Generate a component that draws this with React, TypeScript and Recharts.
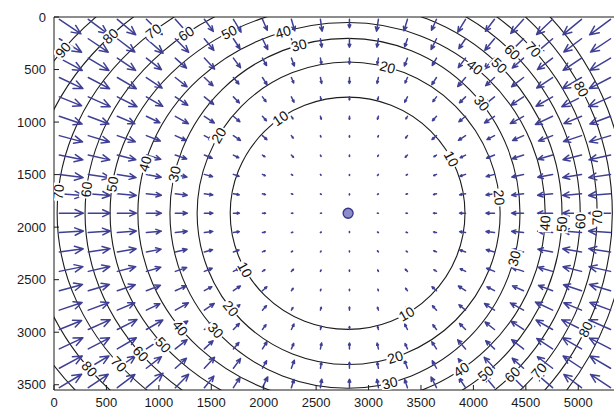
import React from "react";
import { ComposedChart, XAxis, YAxis, ReferenceArea, Line, Scatter } from "recharts";

const xTicks = [0, 500, 1000, 1500, 2000, 2500, 3000, 3500, 4000, 4500, 5000];
const yTicks = [0, 500, 1000, 1500, 2000, 2500, 3000, 3500];

// source marker
const source = { x: 2805, y: 1868 };

// contour levels, extent from the source to the left, to the right and up/down
const levels = [10, 20, 30, 40, 50, 60, 70, 80, 90];
const radiusLeft = [1125, 1440, 1700, 2005, 2270, 2510, 2775, 3050, 3320];
const radiusRight = [1115, 1450, 1640, 1880, 2040, 2215, 2375, 2520, 2660];
const radiusVert = [1105, 1440, 1665, 1815, 1990, 2170, 2330, 2520, 2710];

// contour labels: level + where it sits around the source (deg, 0 = right, 90 = down)
const labelLevels = [
  10, 10, 10, 10,
  20, 20, 20, 20, 20,
  30, 30, 30, 30, 30, 30,
  40, 40, 40, 40, 40, 40,
  50, 50, 50, 50, 50, 50,
  60, 60, 60, 60, 60, 60,
  70, 70, 70, 70, 70, 70,
  80, 80, 80, 80,
  90,
];
const labelAngles = [
  235, -28, 151, 60,
  -75, 211, -6, 141, 72,
  254, 193, 15, -39, 138, 76,
  252, 195, 3, -50, 143, 55,
  240, 188, 3, -45, 141, 50,
  232, 186, 2, -45, 142, 45,
  228, 185, 1, -42, 142, 40,
  222, 144, -28, 26,
  215,
];

// quiver grid
const gridX = [51, 327, 604, 881, 1157, 1434, 1711, 1988, 2264, 2541, 2818, 3094, 3371, 3648, 3925, 4201, 4478, 4755, 5031, 5308];
const gridY = [22, 207, 391, 576, 760, 945, 1129, 1314, 1498, 1683, 1867, 2052, 2236, 2421, 2605, 2790, 2974, 3159, 3343, 3528];
// arrow length by distance band from the source (one band = 277 units)
const arrowLengths = [0, 10, 14, 29, 57, 81, 114, 143, 181, 210, 229, 248, 257, 267];
const bandSize = 277;
const verticalWeight = 0.82; // arrows above/below read shorter than left/right

const font = "'Liberation Sans', Arial, sans-serif";

function ellipsePoint(i: number, deg: number) {
  const t = (deg * Math.PI) / 180;
  const c = Math.cos(t);
  const s = Math.sin(t);
  const rx = c < 0 ? radiusLeft[i] : radiusRight[i];
  const ry = radiusVert[i];
  let rot = (Math.atan2(ry * c, -rx * s) * 180) / Math.PI;
  if (rot > 90) rot -= 180;
  if (rot <= -90) rot += 180;
  return { x: source.x + rx * c, y: source.y + ry * s, rot };
}

const labelData = labelLevels.map((lv, k) => {
  const i = levels.indexOf(lv);
  return { ...ellipsePoint(i, labelAngles[k]), level: lv };
});

const arrowData: { x: number; y: number | null }[] = [];
gridY.forEach((gy) => {
  gridX.forEach((gx) => {
    const dx = source.x - gx;
    const dy = source.y - gy;
    const norm = Math.hypot(dx, dy);
    const band = Math.round(Math.hypot(dx, dy * verticalWeight) / bandSize);
    const len = arrowLengths[Math.min(band, arrowLengths.length - 1)];
    if (norm < 1 || len === 0) return;
    const ux = dx / norm;
    const uy = dy / norm;
    const hx = gx + ux * len;
    const hy = gy + uy * len;
    const b = len * 0.38;
    const a = (24 * Math.PI) / 180;
    const b1x = hx - b * (ux * Math.cos(a) - uy * Math.sin(a));
    const b1y = hy - b * (ux * Math.sin(a) + uy * Math.cos(a));
    const b2x = hx - b * (ux * Math.cos(a) + uy * Math.sin(a));
    const b2y = hy - b * (-ux * Math.sin(a) + uy * Math.cos(a));
    arrowData.push({ x: gx, y: gy }, { x: hx, y: hy }, { x: b1x, y: b1y }, { x: hx, y: hy }, { x: b2x, y: b2y }, { x: gx, y: null });
  });
});

function contourShape(i: number) {
  return (props: any) => {
    const { x, y, width, height, clipPath } = props;
    const fL = radiusLeft[i] / (radiusLeft[i] + radiusRight[i]);
    const rl = width * fL;
    const rr = width - rl;
    const ry = height / 2;
    const cx = x + rl;
    const d = `M${cx},${y} A${rl},${ry} 0 0 0 ${cx},${y + height} A${rr},${ry} 0 0 0 ${cx},${y} Z`;
    return <path d={d} fill="none" stroke="#1c1c1c" strokeWidth={1.1} clipPath={clipPath} />;
  };
}

const LabelShape = (props: any) => {
  const { cx, cy, payload } = props;
  return (
    <g transform={`translate(${cx},${cy}) rotate(${payload.rot})`}>
      <rect x={-9} y={-6.5} width={18} height={13} fill="#fff" />
      <text x={0} y={0} textAnchor="middle" dominantBaseline="central" fontSize={14} fontFamily={font} fill="#111">
        {payload.level}
      </text>
    </g>
  );
};

const SourceShape = (props: any) => (
  <circle cx={props.cx} cy={props.cy} r={5} fill="#8c8cc8" stroke="#34348a" strokeWidth={1.3} />
);

export default function App() {
  const tickStyle = { fontSize: 13, fontFamily: font, fill: "#1a1a1a" };
  return (
    <div style={{ position: "absolute", left: 0, top: 0, width: 614, height: 413, overflow: "hidden", background: "#fff" }}>
      <ComposedChart width={630} height={413} margin={{ top: 16, right: 14, bottom: 0, left: 0 }}>
        <XAxis
          dataKey="x"
          type="number"
          domain={[0, 5360]}
          allowDataOverflow
          ticks={xTicks}
          interval={0}
          height={23}
          tickSize={-5}
          tickMargin={13}
          tick={tickStyle}
          stroke="#1a1a1a"
        />
        <XAxis
          xAxisId="top"
          orientation="top"
          type="number"
          domain={[0, 5360]}
          allowDataOverflow
          ticks={xTicks}
          interval={0}
          height={1}
          tickSize={-5}
          tickFormatter={() => ""}
          stroke="#1a1a1a"
        />
        <YAxis
          dataKey="y"
          type="number"
          reversed
          domain={[0, 3550]}
          allowDataOverflow
          ticks={yTicks}
          interval={0}
          width={54}
          tickSize={-5}
          tickMargin={13}
          tick={tickStyle}
          stroke="#1a1a1a"
        />
        {levels.map((lv, i) => (
          <ReferenceArea
            key={lv}
            x1={source.x - radiusLeft[i]}
            x2={source.x + radiusRight[i]}
            y1={source.y - radiusVert[i]}
            y2={source.y + radiusVert[i]}
            ifOverflow="hidden"
            shape={contourShape(i)}
          />
        ))}
        <Scatter data={labelData} dataKey="y" shape={LabelShape} isAnimationActive={false} />
        <Line
          data={arrowData}
          dataKey="y"
          type="linear"
          stroke="#3f3f94"
          strokeWidth={1.5}
          strokeLinecap="round"
          strokeLinejoin="round"
          dot={false}
          activeDot={false}
          connectNulls={false}
          isAnimationActive={false}
        />
        <Scatter data={[source]} dataKey="y" shape={SourceShape} isAnimationActive={false} />
      </ComposedChart>
    </div>
  );
}
